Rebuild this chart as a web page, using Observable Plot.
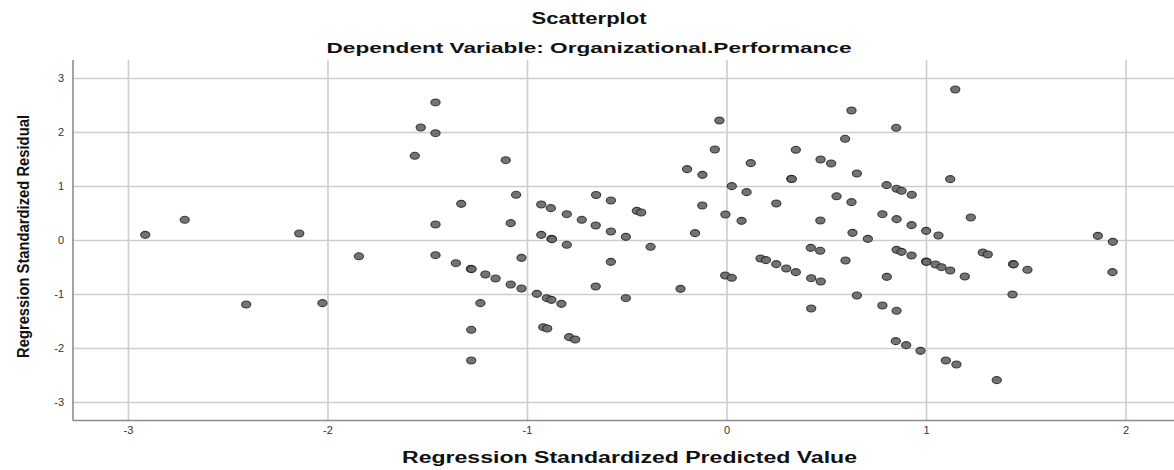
<!DOCTYPE html>
<html>
<head>
<meta charset="utf-8">
<script src="https://cdn.jsdelivr.net/npm/d3@7"></script>
<script src="https://cdn.jsdelivr.net/npm/@observablehq/plot@0.6"></script>
<style>
  body { margin: 0; background: #fff; overflow: hidden; }
</style>
</head>
<body>
<div id="chart"></div>
<script>
const titleText = "Scatterplot";
const subtitleText = "Dependent Variable: Organizational.Performance";
const xLabel = "Regression Standardized Predicted Value";
const yLabel = "Regression Standardized Residual";
const xTicks = [-3, -2, -1, 0, 1, 2];
const yTicks = [-3, -2, -1, 0, 1, 2, 3];
const xDomain = [-3.278, 2.243];
const yDomain = [-3.333, 3.333];

// Regression Standardized Predicted Value
const predicted = [
  -2.916, -2.718, -2.410, -2.144, -2.028, -1.845,
  -1.461, -1.535, -1.461, -1.565, -1.109, -1.057, -1.332, -0.931, -0.883, -0.803,
  -0.728, -0.658, -0.656, -1.461, -1.084, -0.931, -0.880, -0.877, -0.803, -1.461,
  -1.030, -1.359, -1.284, -1.280, -1.211, -1.160, -1.084, -1.030, -0.953, -0.903,
  -0.880, -0.830, -0.658, -1.236, -1.282, -0.921, -0.901, -0.791, -0.761, -1.282,
  -0.038, -0.061, 0.345, -0.200, -0.123, 0.119, 0.469, 0.522, 0.322, 0.325,
  0.024, 0.098, -0.582, -0.452, -0.430, -0.124, 0.247, 0.549, -0.008, 0.073,
  0.468, -0.582, -0.507, -0.160, -0.383, -0.582, -0.507, -0.233, -0.009, 0.024,
  0.168, 0.195, 0.247, 0.297, 0.345, 0.420, 0.467, 0.422, 0.470, 0.422,
  1.144, 0.624, 0.848, 0.592, 0.651, 1.119, 0.800, 0.850, 0.875, 0.926,
  0.624, 0.779, 0.850, 0.925, 1.222, 0.629, 0.706, 0.998, 1.060, 1.859,
  1.934, 1.932, 0.850, 0.875, 0.925, 0.594, 0.998, 1.000, 1.045, 1.075,
  1.119, 1.192, 1.282, 1.307, 1.434, 1.437, 1.506, 0.801, 0.651, 1.431,
  0.779, 0.850, 0.846, 0.898, 0.970, 1.097, 1.150, 1.352
];

// Regression Standardized Residual
const residual = [
  0.105, 0.383, -1.185, 0.130, -1.160, -0.293,
  2.556, 2.093, 1.987, 1.568, 1.487, 0.846, 0.679, 0.667, 0.599, 0.487,
  0.383, 0.278, 0.842, 0.296, 0.321, 0.105, 0.031, 0.025, -0.080, -0.272,
  -0.321, -0.420, -0.525, -0.530, -0.630, -0.704, -0.815, -0.889, -0.988, -1.068,
  -1.099, -1.173, -0.852, -1.160, -1.654, -1.605, -1.630, -1.790, -1.833, -2.222,
  2.222, 1.685, 1.679, 1.321, 1.216, 1.432, 1.500, 1.426, 1.142, 1.138,
  1.006, 0.895, 0.741, 0.549, 0.519, 0.648, 0.685, 0.818, 0.481, 0.364,
  0.370, 0.167, 0.068, 0.136, -0.117, -0.395, -1.068, -0.895, -0.648, -0.691,
  -0.333, -0.364, -0.438, -0.519, -0.586, -0.136, -0.191, -0.698, -0.759, -1.259,
  2.796, 2.407, 2.087, 1.883, 1.241, 1.136, 1.025, 0.957, 0.920, 0.846,
  0.710, 0.487, 0.395, 0.284, 0.426, 0.142, 0.031, 0.179, 0.093, 0.086,
  -0.025, -0.586, -0.173, -0.210, -0.278, -0.370, -0.389, -0.395, -0.444, -0.494,
  -0.556, -0.667, -0.222, -0.259, -0.438, -0.442, -0.543, -0.673, -1.019, -1.000,
  -1.204, -1.302, -1.864, -1.938, -2.043, -2.222, -2.296, -2.586
];

const points = predicted.map((x, i) => ({x, y: residual[i]}));

// slightly wide elliptical marker, like the stretched SPSS circles
const ellipse = {
  draw(ctx, size) {
    const rx = 4.6, ry = 3.5, k = 0.5523;
    ctx.moveTo(rx, 0);
    ctx.bezierCurveTo(rx, ry * k, rx * k, ry, 0, ry);
    ctx.bezierCurveTo(-rx * k, ry, -rx, ry * k, -rx, 0);
    ctx.bezierCurveTo(-rx, -ry * k, -rx * k, -ry, 0, -ry);
    ctx.bezierCurveTo(rx * k, -ry, rx, -ry * k, rx, 0);
    ctx.closePath();
  }
};

const fmt = d => String(d);

const plot = Plot.plot({
  width: 1174,
  height: 470,
  marginLeft: 72.5,
  marginRight: 0,
  marginTop: 60,
  marginBottom: 50,
  style: {fontFamily: "'Liberation Sans', Arial, sans-serif", fontSize: "11px", color: "#333", background: "#fff"},
  x: {domain: xDomain, ticks: xTicks, tickFormat: fmt, tickSize: 0, tickPadding: 6, label: null},
  y: {domain: yDomain, ticks: yTicks, tickFormat: fmt, tickSize: 0, tickPadding: 9, label: null},
  marks: [
    Plot.ruleX(xTicks, {stroke: "#cdcdcd", strokeWidth: 1.6}),
    Plot.ruleY(yTicks, {stroke: "#cdcdcd", strokeWidth: 1.6}),
    Plot.ruleX([xDomain[0]], {stroke: "#8c8c8c", strokeWidth: 1.6}),
    Plot.ruleY([yDomain[0]], {stroke: "#8c8c8c", strokeWidth: 1.6}),
    Plot.dot(points, {x: "x", y: "y", symbol: ellipse, r: 4, fill: "#6b6b6b", fillOpacity: 0.95, stroke: "#222", strokeWidth: 1.1, strokeOpacity: 0.85})
  ]
});

document.getElementById("chart").appendChild(plot);

const svg = d3.select(plot);
function addText(txt, x, y, size, len, rotate) {
  const t = svg.append("text")
    .attr("text-anchor", "middle")
    .attr("font-family", "'Liberation Sans', Arial, sans-serif")
    .attr("font-weight", "bold")
    .attr("font-size", size)
    .attr("fill", "#111")
    .attr("textLength", len)
    .attr("lengthAdjust", "spacingAndGlyphs")
    .text(txt);
  if (rotate) {
    t.attr("transform", `translate(${x},${y}) rotate(-90)`);
  } else {
    t.attr("x", x).attr("y", y);
  }
}
addText(titleText, 589, 24, 16, 115, false);
addText(subtitleText, 589, 53, 15, 525, false);
addText(xLabel, 629.5, 463, 16, 455, false);
addText(yLabel, 29, 236.5, 16, 243, true);
</script>
</body>
</html>
